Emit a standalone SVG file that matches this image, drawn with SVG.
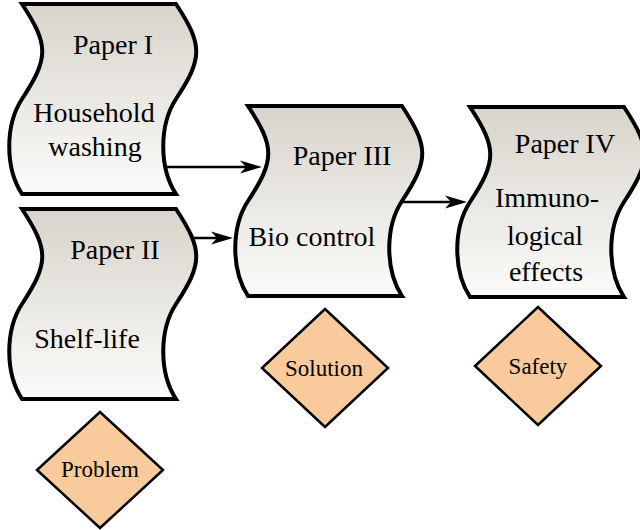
<svg xmlns="http://www.w3.org/2000/svg" xmlns:xlink="http://www.w3.org/1999/xlink" width="640" height="530" viewBox="0 0 640 530">
  <defs>
    <linearGradient id="paperFill" x1="0" y1="0" x2="0" y2="1">
      <stop offset="0" stop-color="#d8d4cb"/>
      <stop offset="1" stop-color="#fbfbfa"/>
    </linearGradient>
    <path id="tape" d="M0,0 H154 C181,41 181,54 154,95 C137,121 137,164 154,190 H0 C-17,164 -17,121 0,95 C27,54 27,41 0,0 Z"/>
    <marker id="arrow" markerUnits="userSpaceOnUse" viewBox="-8 -8 26 16" markerWidth="26" markerHeight="16" refX="0" refY="0" orient="auto" overflow="visible">
      <path d="M16,0 L-6,-6.5 L0,0 L-6,6.5 Z" fill="#000"/>
    </marker>
  </defs>
  <style>
    .paper { fill: url(#paperFill); stroke: #000; stroke-width: 4; stroke-linejoin: miter; }
    .ptext { font-family: "Liberation Serif", "Times New Roman", serif; font-size: 28px; fill: #000; text-anchor: middle; }
    .diamond { fill: #f9cb9c; stroke: #000; stroke-width: 2.5; stroke-linejoin: miter; }
    .dtext { font-family: "Liberation Serif", "Times New Roman", serif; font-size: 23px; fill: #000; text-anchor: middle; }
    .conn { stroke: #000; stroke-width: 2.5; fill: none; }
  </style>

  <g id="paper1">
    <use xlink:href="#tape" href="#tape" x="22" y="4" class="paper"/>
    <text class="ptext" x="113" y="54">Paper I</text>
    <text class="ptext" x="94" y="122">Household</text>
    <text class="ptext" x="95" y="156">washing</text>
  </g>

  <g id="paper2">
    <use xlink:href="#tape" href="#tape" x="22" y="209" class="paper"/>
    <text class="ptext" x="115" y="259">Paper II</text>
    <text class="ptext" x="87" y="348">Shelf-life</text>
  </g>

  <g id="paper3">
    <use xlink:href="#tape" href="#tape" x="248" y="106" class="paper"/>
    <text class="ptext" x="342" y="165">Paper III</text>
    <text class="ptext" x="312" y="246">Bio control</text>
  </g>

  <g id="paper4">
    <use xlink:href="#tape" href="#tape" x="470" y="107" class="paper"/>
    <text class="ptext" x="565" y="153">Paper IV</text>
    <text class="ptext" x="547" y="207">Immuno-</text>
    <text class="ptext" x="545" y="245">logical</text>
    <text class="ptext" x="546" y="281">effects</text>
  </g>

  <g id="problem">
    <path class="diamond" d="M100,412 L163,470 L100,528 L37,470 Z"/>
    <text class="dtext" x="100" y="477">Problem</text>
  </g>

  <g id="solution">
    <path class="diamond" d="M325,309 L388,368 L325,427 L262,368 Z"/>
    <text class="dtext" x="324" y="376">Solution</text>
  </g>

  <g id="safety">
    <path class="diamond" d="M538,307 L601,366 L538,425 L475,366 Z"/>
    <text class="dtext" x="538" y="374">Safety</text>
  </g>

  <g id="connectors">
    <line class="conn" x1="165" y1="167" x2="246" y2="167" marker-end="url(#arrow)"/>
    <line class="conn" x1="193" y1="238" x2="217" y2="238" marker-end="url(#arrow)"/>
    <line class="conn" x1="402" y1="202" x2="451" y2="202" marker-end="url(#arrow)"/>
  </g>
</svg>
